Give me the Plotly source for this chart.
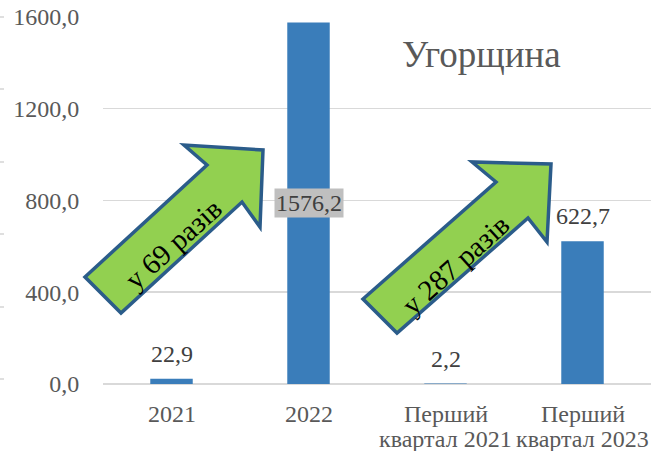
import plotly.graph_objects as go

categories = ["2021", "2022", "Перший<br>квартал 2021", "Перший<br>квартал 2023"]
values = [22.9, 1576.2, 2.2, 622.7]
y_ticks = [0, 400, 800, 1200, 1600]
title_text = "Угорщина"
arrow_texts = ["у 69 разів", "у 287 разів"]

W, H = 651, 451
L, R, T = 103, 0, 16
B = H - 384
PW, PH = W - L - R, H - T - B
FONT = "Liberation Serif"


def px(x):
    return (x - L) / PW


def py(y):
    return (H - B - y) / PH


def fmt(v):
    return f"{v:.1f}".replace(".", ",")


xpos = list(range(len(categories)))

fig = go.Figure()
fig.add_trace(go.Bar(
    x=xpos, y=values,
    marker=dict(color="#3A7DBA", line=dict(width=0)),
    width=0.31,
    hoverinfo="skip",
))

annotations = []
for xi, v in zip(xpos, values):
    if v > 1000:
        annotations.append(dict(
            x=xi, y=v / 2, xref="x", yref="y", text=fmt(v), showarrow=False,
            xanchor="center", yanchor="middle",
            font=dict(family=FONT, size=24, color="#404040"),
            bgcolor="#BFBFBF", borderpad=1,
        ))
    else:
        annotations.append(dict(
            x=xi, y=v, xref="x", yref="y", text=fmt(v), showarrow=False,
            xanchor="center", yanchor="middle", yshift=25,
            font=dict(family=FONT, size=24, color="#404040"),
        ))

# category labels (two-line labels with tight line spacing)
line_shifts = [-30, -55]
for xi, c in zip(xpos, categories):
    for k, part in enumerate(c.split("<br>")):
        annotations.append(dict(
            x=xi, y=0, xref="x", yref="y", text=part, showarrow=False,
            xanchor="center", yanchor="middle", yshift=line_shifts[k],
            font=dict(family=FONT, size=24, color="#595959"),
        ))

annotations.append(dict(
    x=px(481), y=py(55), xref="paper", yref="paper", text=title_text,
    xanchor="center", yanchor="middle",
    showarrow=False, font=dict(family=FONT, size=37, color="#595959"),
))

shapes = []
arrow_polys = [
    [(85, 277), (207, 165), (184, 145), (263, 150), (260, 227), (242, 202), (121, 313)],
    [(363, 299), (496, 182), (472, 162), (551, 164), (547, 242), (528, 218), (397, 333)],
]
for poly in arrow_polys:
    path = "M " + " L ".join(f"{px(x):.5f},{py(y):.5f}" for x, y in poly) + " Z"
    shapes.append(dict(type="path", xref="paper", yref="paper", path=path,
                       fillcolor="#92D050", line=dict(color="#2B5C8A", width=3.5),
                       layer="above"))

text_centers = [(173, 244), (455, 265)]
for (x, y), t in zip(text_centers, arrow_texts):
    annotations.append(dict(
        x=px(x), y=py(y), xref="paper", yref="paper", text=t, showarrow=False,
        xanchor="center", yanchor="middle",
        textangle=-42, font=dict(family=FONT, size=29, color="#000000"),
    ))

# cropped tick marks at left edge
for yy in [17, 89, 162, 234, 307, 379]:
    shapes.append(dict(type="line", xref="paper", yref="paper",
                       x0=px(0), x1=px(4), y0=py(yy), y1=py(yy),
                       line=dict(color="#BFBFBF", width=1)))

fig.update_layout(
    width=W, height=H,
    margin=dict(l=L, r=R, t=T, b=B, autoexpand=False),
    paper_bgcolor="white", plot_bgcolor="white",
    separators=", ",
    showlegend=False,
    bargap=0.69,
    annotations=annotations,
    shapes=shapes,
    xaxis=dict(
        range=[-0.5, len(categories) - 0.5],
        tickvals=xpos, showticklabels=False, automargin=False,
        showgrid=False, showline=False, zeroline=False,
    ),
    yaxis=dict(
        range=[0, 1604], tickvals=y_ticks, tickformat=".1f", automargin=False,
        showgrid=True, gridcolor="#D9D9D9", gridwidth=1.5,
        zeroline=True, zerolinecolor="#D9D9D9", zerolinewidth=1.5,
        showline=False, ticklabeloverflow="allow",
        tickfont=dict(family=FONT, size=24, color="#595959"),
        ticks="outside", ticklen=18, tickcolor="rgba(0,0,0,0)",
    ),
)

fig.write_html(
    "out.html",
    config={"displayModeBar": False, "staticPlot": True},
    post_script="document.body.style.margin='0px';document.body.style.overflow='hidden';",
)
